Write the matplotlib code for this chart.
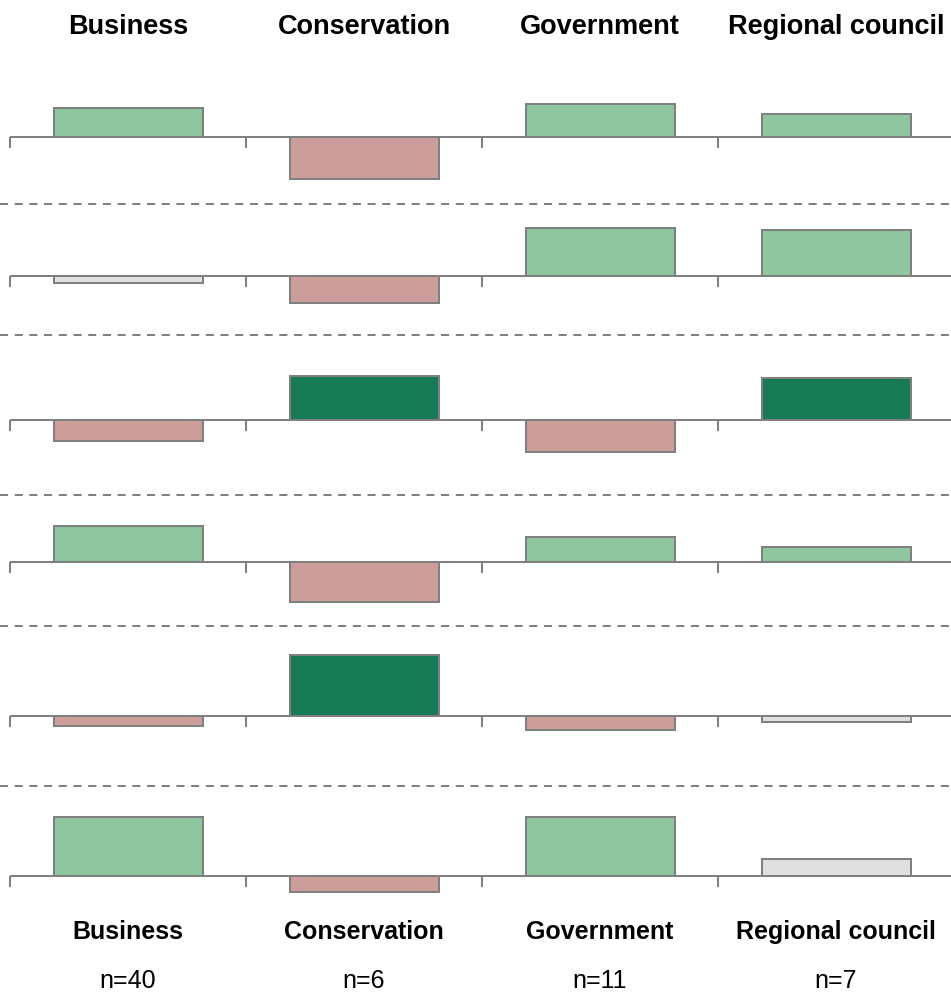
import matplotlib.pyplot as plt

plt.rcParams["font.family"] = ["Liberation Sans", "DejaVu Sans"]

groups = ["Business", "Conservation", "Government", "Regional council"]
n_obs = [40, 6, 11, 7]

# bar values per row, top to bottom, same order as groups
row1 = [29.3, -41.7, 33.3, 23.3]
row2 = [-6.7, -27.0, 48.0, 46.3]
row3 = [-21.7, 43.3, -32.0, 41.3]
row4 = [35.3, -40.0, 25.0, 15.0]
row5 = [-10.7, 61.0, -14.3, -6.0]
row6 = [58.7, -16.6, 58.7, 16.7]
rows = [row1, row2, row3, row4, row5, row6]

# colour class of each bar
cls1 = ["up", "down", "up", "up"]
cls2 = ["ns", "down", "up", "up"]
cls3 = ["down", "strong", "down", "strong"]
cls4 = ["up", "down", "up", "up"]
cls5 = ["down", "strong", "down", "ns"]
cls6 = ["up", "down", "up", "ns"]
classes = [cls1, cls2, cls3, cls4, cls5, cls6]

COLORS = {"up": "#8fc69f", "down": "#cc9e9b", "strong": "#177b56", "ns": "#e0e0e0"}
GREY = "#808080"

# layout (pixels from the top of the 951x995 canvas)
W, H = 951, 995
PITCH = 236.0          # px per group
X0 = 10.0              # px of the first tick
baselines = [138.3, 277.0, 420.7, 562.7, 716.7, 876.7]
separators = [204.5, 336.0, 496.0, 627.0, 787.3]
TICK = 11
LW = 1.45

fig = plt.figure(figsize=(W / 100, H / 100), dpi=100)
ax = fig.add_axes([0, 0, 1, 1])
xlo, xhi = -X0 / PITCH, (W - X0) / PITCH
ax.set_xlim(xlo, xhi)
ax.set_ylim(-H, 0)
ax.axis("off")

pos = list(range(len(groups)))
for vals, cls, b in zip(rows, classes, baselines):
    ax.hlines(-b, 0, xhi + 0.1, color=GREY, lw=LW, zorder=1)
    ax.vlines(pos, -b - TICK, -b, color=GREY, lw=LW, zorder=1)
    ax.bar([p + 0.5 for p in pos], vals, width=149 / PITCH, bottom=-b,
           color=[COLORS[c] for c in cls], edgecolor=GREY, linewidth=LW,
           zorder=2)

for s in separators:
    ax.hlines(-s, xlo, xhi, color=GREY, lw=LW, linestyles=(0, (4, 3.3)))

for p, g, n in zip(pos, groups, n_obs):
    ax.text(p + 0.5, -34, g, ha="center", va="baseline",
            fontsize=19.5, fontweight="bold")
    ax.text(p + 0.5, -939.3, g, ha="center", va="baseline",
            fontsize=18, fontweight="bold")
    ax.text(p + 0.5, -988, f"n={n}", ha="center", va="baseline", fontsize=18)

fig.savefig("out.png", dpi=100)
